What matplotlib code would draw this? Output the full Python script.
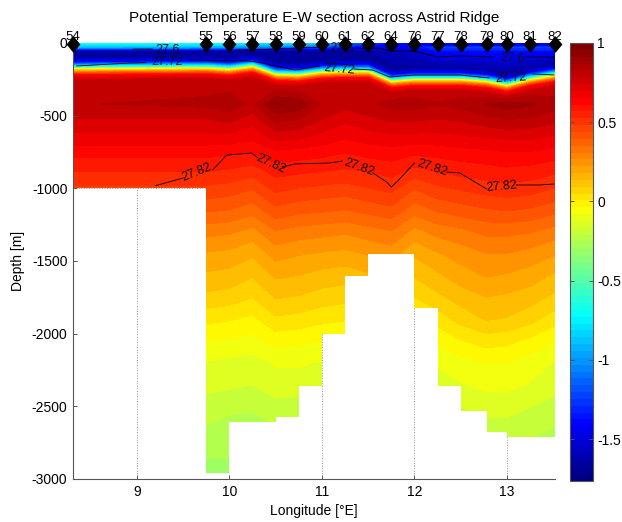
import matplotlib
matplotlib.use("Agg")
import matplotlib.pyplot as plt
import numpy as np
from matplotlib.colors import LinearSegmentedColormap
from matplotlib.path import Path

plt.rcParams['font.family'] = ['Liberation Sans', 'DejaVu Sans']
plt.rcParams['font.size'] = 10
plt.rcParams['axes.unicode_minus'] = False

# stations along the section
station_names = ["54", "55", "56", "57", "58", "59", "60", "61", "62", "64", "76", "77", "78", "79", "80", "81", "82"]
station_lon = [8.31, 9.75, 10.0, 10.25, 10.5, 10.75, 11.0, 11.25, 11.5, 11.75, 12.0, 12.25, 12.5, 12.78, 13.0, 13.25, 13.52]

# depth of the thermocline (yellow band) at each station
thermo_depth = [180, 175, 185, 165, 220, 225, 205, 200, 200, 268, 255, 255, 255, 268, 296, 255, 227]

# surface layers, fixed depth
surface_depth = [0, 12, 30, 55]
surface_temp = [
    [-0.68, -0.68, -0.72, -0.78, -0.80, -0.82, -0.90, -1.10, -1.25, -1.40, -1.40, -1.45, -1.45, -1.45, -1.45, -1.45, -1.45],
    [-0.78, -0.78, -0.82, -0.86, -0.90, -0.92, -1.00, -1.20, -1.32, -1.45, -1.45, -1.50, -1.50, -1.50, -1.50, -1.50, -1.50],
    [-0.95, -0.98, -1.02, -1.08, -1.12, -1.18, -1.25, -1.38, -1.42, -1.50, -1.40, -1.25, -1.25, -1.25, -1.25, -1.25, -1.25],
    [-1.68, -1.68, -1.68, -1.68, -1.68, -1.68, -1.68, -1.68, -1.68, -1.60, -1.55, -1.40, -1.40, -1.40, -1.40, -1.40, -1.40],
]

# layers that follow the thermocline, offset in m and temperature
thermo_offset = [-85, -50, -30, -14, 0, 18, 42, 75]
thermo_temp = [-1.68, -1.45, -1.00, -0.60, -0.05, 0.30, 0.66, 0.80]

# deep layers, fixed depth
deep_depth = [420, 520, 640, 760, 880, 1000, 1150, 1300, 1450, 1600, 1750, 1900, 2050, 2200, 2350, 2500, 2650, 2800, 3000]
deep_temp = [
    [0.83, 0.85, 0.87, 0.82, 0.95, 0.93, 0.83, 0.80, 0.82, 0.86, 0.86, 0.84, 0.86, 0.89, 0.92, 0.90, 0.86],
    [0.78, 0.78, 0.80, 0.75, 0.86, 0.84, 0.78, 0.74, 0.77, 0.79, 0.79, 0.78, 0.79, 0.82, 0.84, 0.83, 0.80],
    [0.71, 0.71, 0.71, 0.69, 0.75, 0.74, 0.71, 0.68, 0.70, 0.71, 0.71, 0.71, 0.72, 0.73, 0.74, 0.74, 0.72],
    [0.63, 0.63, 0.62, 0.61, 0.65, 0.64, 0.63, 0.61, 0.63, 0.64, 0.62, 0.63, 0.64, 0.65, 0.66, 0.66, 0.64],
    [0.56, 0.56, 0.55, 0.53, 0.58, 0.57, 0.56, 0.55, 0.56, 0.58, 0.54, 0.56, 0.58, 0.59, 0.60, 0.59, 0.57],
    [0.49, 0.49, 0.48, 0.45, 0.52, 0.50, 0.49, 0.48, 0.50, 0.52, 0.45, 0.49, 0.51, 0.53, 0.54, 0.53, 0.50],
    [0.40, 0.40, 0.39, 0.36, 0.43, 0.41, 0.40, 0.39, 0.41, 0.43, 0.36, 0.40, 0.42, 0.44, 0.45, 0.44, 0.41],
    [0.30, 0.30, 0.29, 0.26, 0.33, 0.31, 0.30, 0.29, 0.31, 0.33, 0.26, 0.30, 0.32, 0.35, 0.35, 0.34, 0.31],
    [0.22, 0.22, 0.21, 0.18, 0.25, 0.23, 0.22, 0.21, 0.23, 0.25, 0.18, 0.22, 0.25, 0.28, 0.28, 0.26, 0.23],
    [0.16, 0.16, 0.15, 0.12, 0.18, 0.17, 0.15, 0.14, 0.16, 0.18, 0.12, 0.16, 0.20, 0.23, 0.22, 0.20, 0.16],
    [0.10, 0.10, 0.09, 0.06, 0.12, 0.11, 0.09, 0.08, 0.10, 0.12, 0.06, 0.10, 0.14, 0.17, 0.16, 0.14, 0.10],
    [0.02, 0.02, 0.01, -0.01, 0.05, 0.04, 0.02, 0.01, 0.02, 0.04, 0.00, 0.03, 0.08, 0.12, 0.11, 0.08, 0.03],
    [-0.05, -0.05, -0.06, -0.07, -0.03, -0.04, -0.05, -0.06, -0.05, -0.04, -0.06, -0.04, 0.00, 0.03, 0.02, -0.01, -0.05],
    [-0.11, -0.11, -0.12, -0.13, -0.10, -0.10, -0.11, -0.12, -0.11, -0.10, -0.12, -0.10, -0.07, -0.05, -0.05, -0.08, -0.11],
    [-0.14, -0.14, -0.15, -0.16, -0.13, -0.13, -0.14, -0.15, -0.14, -0.13, -0.15, -0.13, -0.11, -0.09, -0.09, -0.11, -0.14],
    [-0.18, -0.19, -0.20, -0.21, -0.18, -0.19, -0.20, -0.20, -0.19, -0.18, -0.20, -0.19, -0.16, -0.14, -0.14, -0.16, -0.18],
    [-0.22, -0.22, -0.24, -0.24, -0.22, -0.22, -0.23, -0.23, -0.22, -0.22, -0.23, -0.22, -0.20, -0.18, -0.18, -0.20, -0.22],
    [-0.25, -0.26, -0.26, -0.27, -0.25, -0.25, -0.26, -0.26, -0.25, -0.25, -0.26, -0.25, -0.24, -0.23, -0.23, -0.23, -0.24],
    [-0.30, -0.30, -0.30, -0.31, -0.30, -0.30, -0.30, -0.30, -0.30, -0.30, -0.30, -0.30, -0.29, -0.28, -0.28, -0.28, -0.29],
]

# seabed steps
bed_edges = [8.31, 9.75, 10.0, 10.5, 10.75, 11.0, 11.25, 11.5, 12.0, 12.25, 12.5, 12.78, 13.0, 13.52]
bed_depth = [1000, 2960, 2610, 2570, 2360, 2000, 1600, 1450, 1820, 2360, 2530, 2680, 2710]

# density lines, None is a gap for the label
line_276_lon = [8.96, 9.17, None, 10.08, 10.24, 10.51, 10.98, None, 11.38, 11.62, 11.75, 12.0, 12.25, 12.49, 12.84, None, 13.21, 13.51]
line_276_dep = [42, 42, None, 48, 48, 41, 28, None, 35, 35, 55, 55, 96, 89, 96, None, 96, 96]
line_2772_lon = [8.35, 8.92, 9.10, None, 9.57, 10.22, 10.36, 10.71, 10.98, None, 11.35, 11.55, 11.73, 12.0, 12.49, 12.81, None, 13.28, 13.51]
line_2772_dep = [158, 138, 135, None, 117, 124, 138, 186, 158, None, 179, 186, 234, 220, 220, 241, None, 213, 220]
line_2782_lon = [9.20, 9.50, None, 9.82, 9.97, 10.24, 10.31, None, 10.57, 10.71, 11.08, 11.22, None, 11.55, 11.70, 11.75, 11.81, 12.0, None, 12.35, 12.49, 12.78, None, 13.10, 13.35, 13.51]
line_2782_dep = [982, 929, None, 874, 771, 757, 791, None, 853, 832, 826, 812, None, 894, 956, 991, 956, 826, None, 888, 894, 1004, None, 977, 977, 970]

# contour labels: text, lon, depth, rotation
contour_labels = [
    ("27.6", 9.33, 48, 0), ("27.6", 11.21, 41, -3), ("27.6", 13.06, 110, -3),
    ("27.72", 9.33, 131, 0), ("27.72", 11.19, 179, -5), ("27.72", 13.04, 241, 3),
    ("27.82", 9.65, 892, 22), ("27.82", 10.45, 832, -25), ("27.82", 11.40, 860, -20),
    ("27.82", 12.19, 860, -18), ("27.82", 12.94, 990, 5),
]

y_ticks = [0, -500, -1000, -1500, -2000, -2500, -3000]
x_ticks = [9, 10, 11, 12, 13]
grid_lons = [9, 11, 12, 13]
cbar_ticks = [1, 0.5, 0, -0.5, -1, -1.5]
tmin, tmax = -1.765, 1.0
axis_col = "#555555"

# same anchors as the matlab jet, yellow sits a bit lower than in matplotlib's
jet = LinearSegmentedColormap.from_list("mjet", [
    (0.0, (0, 0, 0.5)), (0.125, (0, 0, 1)), (0.375, (0, 1, 1)),
    (0.625, (1, 1, 0)), (0.875, (1, 0, 0)), (1.0, (0.5, 0, 0))], N=256)

# stack the layers, rows are layers and columns are stations
lon = np.array(station_lon)
n_st = len(lon)
rows_y = [np.full(n_st, float(d)) for d in surface_depth]
rows_y += [np.array(thermo_depth, dtype=float) + o for o in thermo_offset]
rows_y += [np.full(n_st, float(d)) for d in deep_depth]
rows_t = [np.array(r) for r in surface_temp]
rows_t += [np.full(n_st, t) for t in thermo_temp]
rows_t += [np.array(r) for r in deep_temp]
Y = -np.array(rows_y)
T = np.array(rows_t)
X = np.tile(lon, (Y.shape[0], 1))

fig = plt.figure(figsize=(6.22, 5.22), dpi=100)
W, H = 622.0, 522.0
ax = fig.add_axes([73 / W, 1 - 479 / H, (555 - 73) / W, (479 - 43) / H])
cax = fig.add_axes([570 / W, 1 - 481 / H, (593 - 570) / W, (481 - 43) / H])

# dotted grid shows only where the section is cut away
ax.vlines(grid_lons, -3000, 0, color="#999999", linestyle=":", linewidth=0.7, zorder=0)
ax.hlines(-1000, bed_edges[0], bed_edges[1], color="#999999", linestyle=":", linewidth=0.7, zorder=0)

levels = np.linspace(tmin, tmax, 51)
cf = ax.contourf(X, Y, T, levels=levels, cmap=jet, extend="both", zorder=1)

# clip the field to the water column
verts = [(bed_edges[0], 0)]
for i, d in enumerate(bed_depth):
    verts.append((bed_edges[i], -d))
    verts.append((bed_edges[i + 1], -d))
verts.append((bed_edges[-1], 0))
verts.append((bed_edges[0], 0))
cf.set_clip_path(Path(verts), ax.transData)


def draw_line(lons, deps):
    xs = [np.nan if v is None else v for v in lons]
    ys = [np.nan if v is None else -v for v in deps]
    ax.plot(xs, ys, color="black", linewidth=0.6, zorder=3)


draw_line(line_276_lon, line_276_dep)
draw_line(line_2772_lon, line_2772_dep)
draw_line(line_2782_lon, line_2782_dep)

for txt, x, d, rot in contour_labels:
    ax.text(x, -d, txt, fontsize=9, ha="center", va="center", rotation=rot, zorder=4, color="#111111")

# station markers and names
diamond = [(0, 1.2), (1, 0), (0, -1.2), (-1, 0), (0, 1.2)]
ax.plot(lon, np.zeros(n_st) - 10, linestyle="none", marker=diamond, markersize=12, markeredgewidth=0, color="black", clip_on=False, zorder=5)
for name, x in zip(station_names, lon):
    ax.text(x, 40, name, fontsize=9.5, ha="center", va="center", clip_on=False, zorder=6)

ax.set_xlim(bed_edges[0], bed_edges[-1])
ax.set_ylim(-3000, 0)
ax.set_xticks(x_ticks)
ax.set_yticks(y_ticks)
ax.spines["top"].set_visible(False)
ax.spines["right"].set_visible(False)
for s in ["left", "bottom"]:
    ax.spines[s].set_color(axis_col)
ax.tick_params(direction="in", length=3, width=0.7, color=axis_col, labelsize=10, pad=4)
ax.set_xlabel("Longitude [°E]", fontsize=10, labelpad=4)
ax.set_ylabel("Depth [m]", fontsize=10, labelpad=5)
ax.set_title("Potential Temperature E-W section across Astrid Ridge", fontsize=11, pad=15)

# colorbar
sm = plt.cm.ScalarMappable(norm=plt.Normalize(tmin, tmax), cmap=jet.resampled(64))
cb = fig.colorbar(sm, cax=cax)
cb.set_ticks(cbar_ticks)
cb.set_ticklabels(["1", "0.5", "0", "-0.5", "-1", "-1.5"])
cb.outline.set_edgecolor(axis_col)
cax.tick_params(direction="in", length=3, width=0.7, color=axis_col, labelsize=10, pad=3, left=True, right=True)

fig.savefig("out.png", dpi=100)
